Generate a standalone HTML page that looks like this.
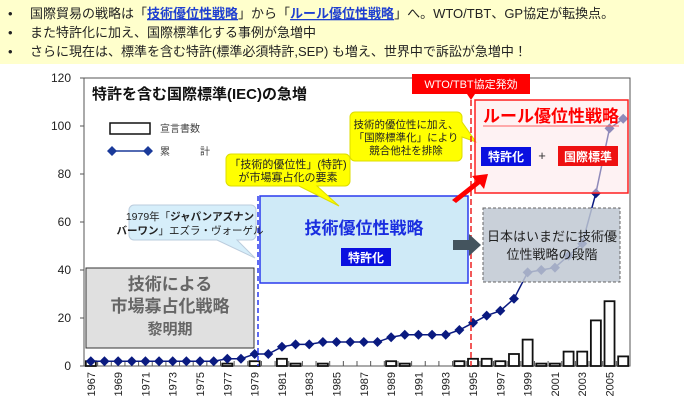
<!DOCTYPE html>
<html><head><meta charset="utf-8"><style>
body{margin:0;width:684px;height:415px;overflow:hidden;background:#fff;font-family:"Liberation Sans","Noto Sans CJK JP",sans-serif}
</style></head><body>
<svg id="c" width="684" height="415" xmlns="http://www.w3.org/2000/svg" font-family="Liberation Sans, Noto Sans CJK JP, sans-serif">
<rect x="0" y="0" width="684" height="64" fill="#ffffcc"/>
<g font-size="13" fill="#222">
<text x="8" y="18">•</text><text x="30" y="18">国際貿易の戦略は「<tspan fill="#1f3fd0" font-weight="bold" text-decoration="underline">技術優位性戦略</tspan>」から「<tspan fill="#1f3fd0" font-weight="bold" text-decoration="underline">ルール優位性戦略</tspan>」へ。WTO/TBT、GP協定が転換点。</text>
<text x="8" y="37">•</text><text x="30" y="37">また特許化に加え、国際標準化する事例が急増中</text>
<text x="8" y="56">•</text><text x="30" y="56">さらに現在は、標準を含む特許(標準必須特許,SEP) も増え、世界中で訴訟が急増中！</text>
</g>
<rect x="84" y="78" width="546" height="288" fill="none" stroke="#555" stroke-width="1"/>
<g id="axes"></g>
<g id="bars"></g>
<g id="line"></g>
<text x="92" y="99" font-size="15" font-weight="bold" fill="#111">特許を含む国際標準(IEC)の急増</text>
<g font-size="10" fill="#444">
<rect x="110" y="123" width="40" height="11" fill="#fff" stroke="#111" stroke-width="1.5"/>
<text x="160" y="132">宣言書数</text>
<line x1="112" y1="151" x2="148" y2="151" stroke="#1a3a9a" stroke-width="1.5"/>
<path d="M112 146l5 5-5 5-5-5z M148 146l5 5-5 5-5-5z" fill="#1a3a9a"/>
<text x="160" y="155">累　　　計</text>
</g>
<line x1="258" y1="196" x2="258" y2="366" stroke="#2a3aee" stroke-width="1.5" stroke-dasharray="5,3"/>
<rect x="260" y="196" width="208" height="87" fill="#cfeaf7" stroke="#2a3aee" stroke-width="1.5"/>
<text x="364" y="234" text-anchor="middle" font-size="17" font-weight="bold" fill="#1a2ee0">技術優位性戦略</text>
<rect x="341" y="248" width="50" height="18" fill="#0a10e0"/>
<text x="366" y="262" text-anchor="middle" font-size="12" font-weight="bold" fill="#fff">特許化</text>
<rect x="86" y="268" width="168" height="80" fill="#e0e0e0" stroke="#333" stroke-width="1"/>
<g font-size="17" font-weight="bold" fill="#666" text-anchor="middle">
<text x="170" y="290">技術による</text><text x="170" y="312">市場寡占化戦略</text><text x="170" y="334" font-size="15">黎明期</text></g>
<g>
<path d="M134 205h117a5 5 0 0 1 5 5v25a5 5 0 0 1-5 5h-14l18 18-38-18h-83a5 5 0 0 1-5-5v-25a5 5 0 0 1 5-5z" fill="#d6eefa" stroke="#bcd" />
<text x="190" y="220" text-anchor="middle" font-size="10.5" fill="#222">1979年「<tspan font-weight="bold">ジャパンアズナン</tspan></text>
<text x="190" y="234" text-anchor="middle" font-size="10.5" fill="#222"><tspan font-weight="bold">バーワン</tspan>」エズラ・ヴォーゲル</text></g>
<g>
<path d="M231 154h114a5 5 0 0 1 5 5v22a5 5 0 0 1-5 5h-28l22 20-40-20h-68a5 5 0 0 1-5-5v-22a5 5 0 0 1 5-5z" fill="#ffff00" stroke="#dd0"/>
<text x="288" y="168" text-anchor="middle" font-size="11" fill="#222">「技術的優位性」(特許)</text>
<text x="288" y="181" text-anchor="middle" font-size="11" fill="#222">が市場寡占化の要素</text></g>
<g>
<path d="M355 112h102a5 5 0 0 1 5 5v5l14 20-14-5v19a5 5 0 0 1-5 5h-102a5 5 0 0 1-5-5v-39a5 5 0 0 1 5-5z" fill="#ffff00" stroke="#dd0"/>
<text x="406" y="128" text-anchor="middle" font-size="10.5" fill="#222">技術的優位性に加え、</text>
<text x="406" y="141" text-anchor="middle" font-size="10.5" fill="#222">「国際標準化」により</text>
<text x="406" y="154" text-anchor="middle" font-size="10.5" fill="#222">競合他社を排除</text></g>
<line x1="471" y1="100" x2="471" y2="366" stroke="#ee2222" stroke-width="1.5" stroke-dasharray="6,3"/>
<rect x="412" y="74" width="118" height="20" fill="#ff0000"/>
<path d="M467 94h8l-4 6z" fill="#ff0000"/>
<text x="471" y="88" text-anchor="middle" font-size="11" fill="#fff">WTO/TBT協定発効</text>
<rect x="475" y="100" width="153" height="93" fill="#fde8ea" fill-opacity="0.55" stroke="#ff2020" stroke-width="1.5"/>
<text x="551" y="122" text-anchor="middle" font-size="17" font-weight="bold" fill="#ff0000">ルール優位性戦略</text>
<line x1="483" y1="126" x2="619" y2="126" stroke="#ff6060" stroke-width="1"/>
<rect x="481" y="147" width="50" height="19" fill="#0a10e0"/>
<text x="506" y="161" text-anchor="middle" font-size="12" font-weight="bold" fill="#fff">特許化</text>
<text x="542" y="160" text-anchor="middle" font-size="13" fill="#333">+</text>
<rect x="558" y="146" width="60" height="20" fill="#ee1111"/>
<text x="588" y="161" text-anchor="middle" font-size="12" font-weight="bold" fill="#fff">国際標準</text>
<path d="M452 200l24-19-4-5 16-2-4 15-4-5-24 19z" fill="#ff0000"/>
<path d="M453 240h16v-6l12 11-12 11v-6h-16z" fill="#44545e"/>
<rect x="483" y="208" width="137" height="74" fill="#c0c8d2" fill-opacity="0.85" stroke="#666" stroke-dasharray="3,2"/>
<text x="552" y="241" text-anchor="middle" font-size="13" fill="#222">日本はいまだに技術優</text>
<text x="552" y="259" text-anchor="middle" font-size="13" fill="#222">位性戦略の段階</text>
</svg>
<script>
const years=[];for(let y=1967;y<=2006;y++)years.push(y);
const declarations=[2,0,0,0,0,0,0,0,0,0,1,0,2,0,3,1,0,1,0,0,0,0,2,1,0,0,0,2,3,3,2,5,11,1,1,6,6,19,27,4];
const cumulative=[2,2,2,2,2,2,2,2,2,2,3,3,5,5,8,9,9,10,10,10,10,10,12,13,13,13,13,15,18,21,23,28,39,40,41,46,51,72,99,103];
const yTicks=[0,20,40,60,80,100,120];
const NS="http://www.w3.org/2000/svg";
const x0=84,w=546,y0=366,yTop=78;
const step=w/years.length;
const X=i=>x0+step*(i+0.5);
const Y=v=>y0-(v/120)*(y0-yTop);
function mk(t,a,p){const e=document.createElementNS(NS,t);for(const k in a)e.setAttribute(k,a[k]);p.appendChild(e);return e;}
const axes=document.getElementById('axes');
yTicks.forEach(v=>{
 const l=mk('line',{x1:x0-4,x2:x0,y1:Y(v),y2:Y(v),stroke:'#555'},axes);
 
 
 const t=mk('text',{x:x0-13,y:Y(v)+4,'text-anchor':'end','font-size':'12',fill:'#222'},axes);
 
 
 t.textContent=v;
});
years.forEach((yr,i)=>{
 mk('line',{x1:x0+step*i,x2:x0+step*i,y1:y0,y2:y0-5,stroke:'#555'},axes);
 if(i%2===0){
  const t=mk('text',{x:0,y:0,'text-anchor':'end','font-size':'11',fill:'#222',transform:`translate(${X(i)+4},372) rotate(-90)`},axes);
  
  
  t.textContent=yr;
 }
});
const bars=document.getElementById('bars');
declarations.forEach((v,i)=>{
 if(v<=0)return;
 const r=mk('rect',{x:X(i)-5,y:Y(v),width:10,height:y0-Y(v),fill:'#fff',stroke:'#111','stroke-width':1.8},bars);
 
 
});
const lg=document.getElementById('line');
const pl=mk('polyline',{points:cumulative.map((v,i)=>X(i)+','+Y(v)).join(' '),fill:'none',stroke:'#0a1a80','stroke-width':1.5},lg);


cumulative.forEach((v,i)=>{
 const d=mk('path',{d:`M${X(i)} ${Y(v)-5}l5 5-5 5-5-5z`,fill:'#0a1a80'},lg);
 
 
});
</script>
</body></html>
